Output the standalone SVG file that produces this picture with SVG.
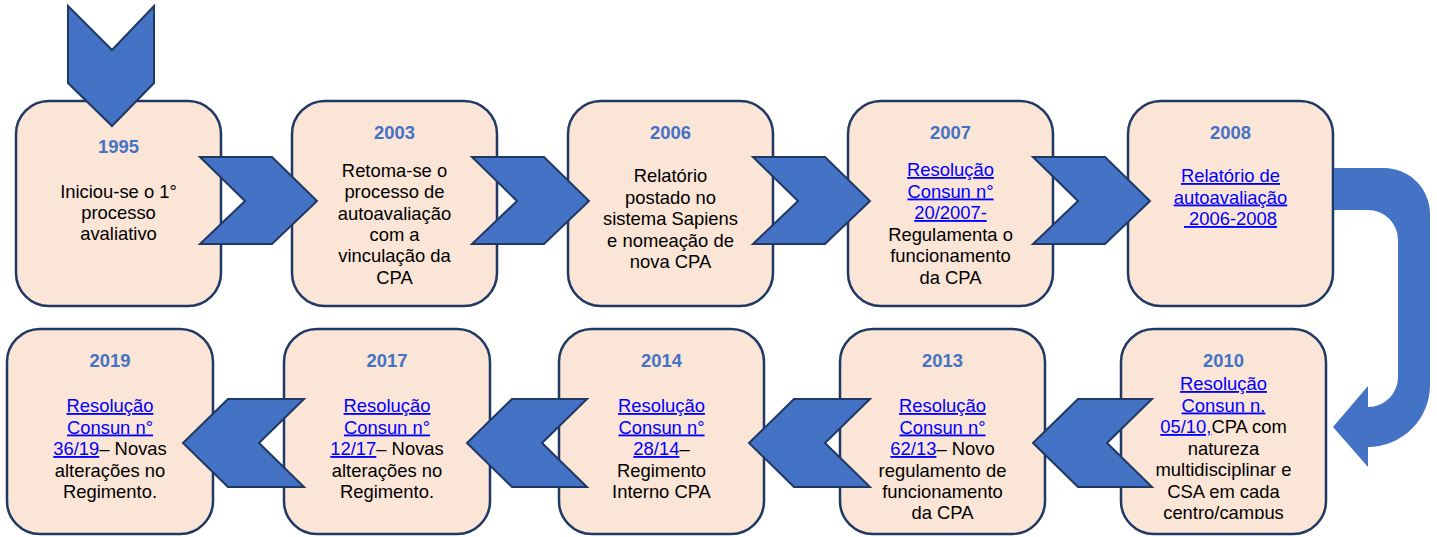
<svg xmlns="http://www.w3.org/2000/svg" width="1437" height="537" viewBox="0 0 1437 537">
<style>
.box{fill:#FBE5D6;stroke:#203864;stroke-width:2.5}
.chev{fill:#4472C4;stroke:#203864;stroke-width:2;stroke-linejoin:miter}
.uarrow{fill:#4472C4}
.yr{font-family:"Liberation Sans",Arial,sans-serif;font-size:18.4px;font-weight:bold;fill:#4472C4;text-anchor:middle}
.tx{font-family:"Liberation Sans",Arial,sans-serif;font-size:18.4px;fill:#000000;text-anchor:middle}
.lk{fill:#0000FF;text-decoration:underline}
</style>
<defs>
<clipPath id="clip2010"><rect x="1121" y="329" width="205" height="190"/></clipPath>
</defs>
<rect width="1437" height="537" fill="#FFFFFF"/>

<g id="node-1995">
<rect class="box" x="16" y="101" width="205" height="205" rx="33"/>
<text class="yr" x="118.5" y="153">1995</text>
<text class="tx" x="118.5" y="198">Iniciou-se o 1°</text>
<text class="tx" x="118.5" y="219">processo</text>
<text class="tx" x="118.5" y="240">avaliativo</text>
</g>

<g id="node-2003">
<rect class="box" x="292" y="101" width="205" height="205" rx="33"/>
<text class="yr" x="394.5" y="139">2003</text>
<text class="tx" x="394.5" y="177">Retoma-se o</text>
<text class="tx" x="394.5" y="198">processo de</text>
<text class="tx" x="394.5" y="219.5">autoavaliação</text>
<text class="tx" x="394.5" y="241">com a</text>
<text class="tx" x="394.5" y="262">vinculação da</text>
<text class="tx" x="394.5" y="283.5">CPA</text>
</g>

<g id="node-2006">
<rect class="box" x="568" y="101" width="205" height="205" rx="33"/>
<text class="yr" x="670.5" y="139">2006</text>
<text class="tx" x="670.5" y="182">Relatório</text>
<text class="tx" x="670.5" y="203.5">postado no</text>
<text class="tx" x="670.5" y="225">sistema Sapiens</text>
<text class="tx" x="670.5" y="246.5">e nomeação de</text>
<text class="tx" x="670.5" y="268">nova CPA</text>
</g>

<g id="node-2007">
<rect class="box" x="848" y="101" width="205" height="205" rx="33"/>
<text class="yr" x="950.5" y="139">2007</text>
<text class="tx" x="950.5" y="176"><tspan class="lk">Resolução</tspan></text>
<text class="tx" x="950.5" y="197.5"><tspan class="lk">Consun n°</tspan></text>
<text class="tx" x="950.5" y="219"><tspan class="lk">20/2007-</tspan></text>
<text class="tx" x="950.5" y="240.5">Regulamenta o</text>
<text class="tx" x="950.5" y="262">funcionamento</text>
<text class="tx" x="950.5" y="283.5">da CPA</text>
</g>

<g id="node-2008">
<rect class="box" x="1128" y="101" width="205" height="205" rx="33"/>
<text class="yr" x="1230.5" y="139">2008</text>
<text class="tx" x="1230.5" y="182"><tspan class="lk">Relatório de</tspan></text>
<text class="tx" x="1230.5" y="203.5"><tspan class="lk">autoavaliação</tspan></text>
<text class="tx" x="1230.5" y="225" xml:space="preserve"><tspan class="lk"> 2006-2008</tspan></text>
</g>

<g id="node-2019">
<rect class="box" x="7" y="329" width="206" height="205" rx="33"/>
<text class="yr" x="110" y="367">2019</text>
<text class="tx" x="110" y="412"><tspan class="lk">Resolução</tspan></text>
<text class="tx" x="110" y="433.5"><tspan class="lk">Consun n°</tspan></text>
<text class="tx" x="110" y="455"><tspan class="lk">36/19</tspan>– Novas</text>
<text class="tx" x="110" y="476.5">alterações no</text>
<text class="tx" x="110" y="498">Regimento.</text>
</g>

<g id="node-2017">
<rect class="box" x="284" y="329" width="206" height="205" rx="33"/>
<text class="yr" x="387" y="367">2017</text>
<text class="tx" x="387" y="412"><tspan class="lk">Resolução</tspan></text>
<text class="tx" x="387" y="433.5"><tspan class="lk">Consun n°</tspan></text>
<text class="tx" x="387" y="455"><tspan class="lk">12/17</tspan>– Novas</text>
<text class="tx" x="387" y="476.5">alterações no</text>
<text class="tx" x="387" y="498">Regimento.</text>
</g>

<g id="node-2014">
<rect class="box" x="559" y="329" width="205" height="205" rx="33"/>
<text class="yr" x="661.5" y="367">2014</text>
<text class="tx" x="661.5" y="412"><tspan class="lk">Resolução</tspan></text>
<text class="tx" x="661.5" y="433.5"><tspan class="lk">Consun n°</tspan></text>
<text class="tx" x="661.5" y="455"><tspan class="lk">28/14</tspan>–</text>
<text class="tx" x="661.5" y="476.5">Regimento</text>
<text class="tx" x="661.5" y="498">Interno CPA</text>
</g>

<g id="node-2013">
<rect class="box" x="840" y="329" width="205" height="205" rx="33"/>
<text class="yr" x="942.5" y="367">2013</text>
<text class="tx" x="942.5" y="412"><tspan class="lk">Resolução</tspan></text>
<text class="tx" x="942.5" y="433.5"><tspan class="lk">Consun n°</tspan></text>
<text class="tx" x="942.5" y="455"><tspan class="lk">62/13</tspan>– Novo</text>
<text class="tx" x="942.5" y="476.5">regulamento de</text>
<text class="tx" x="942.5" y="498">funcionamento</text>
<text class="tx" x="942.5" y="519">da CPA</text>
</g>

<g id="node-2010">
<rect class="box" x="1121" y="329" width="205" height="205" rx="33"/>
<g clip-path="url(#clip2010)">
<text class="yr" x="1223.5" y="367">2010</text>
<text class="tx" x="1223.5" y="390"><tspan class="lk">Resolução</tspan></text>
<text class="tx" x="1223.5" y="411.5"><tspan class="lk">Consun n.</tspan></text>
<text class="tx" x="1223.5" y="433"><tspan class="lk">05/10,</tspan>CPA com</text>
<text class="tx" x="1223.5" y="454.5">natureza</text>
<text class="tx" x="1223.5" y="476">multidisciplinar e</text>
<text class="tx" x="1223.5" y="497.5">CSA em cada</text>
<text class="tx" x="1223.5" y="519">centro/campus</text>
</g>
</g>

<g id="connectors">
<polygon class="chev" points="68,6 112,50 154,6 154,83 112,126 68,83"/>
<polygon class="chev" points="200,157 272,157 317,201 272,244 200,244 245,201"/>
<polygon class="chev" points="472,157 544,157 589,201 544,244 472,244 517,201"/>
<polygon class="chev" points="753,157 825,157 870,201 825,244 753,244 798,201"/>
<polygon class="chev" points="1033,157 1105,157 1150,201 1105,244 1033,244 1078,201"/>
<path class="uarrow" d="M1334,168 L1384,168 A46,46 0 0 1 1430,214 L1430,385 A62,62 0 0 1 1368,447 L1368,467 L1333,427 L1368,386 L1368,407 A30,30 0 0 0 1398,377 L1398,240 A30,30 0 0 0 1368,210 L1334,210 Z"/>
<polygon class="chev" points="1033,443 1078,399 1152,399 1107,443 1152,487 1078,487"/>
<polygon class="chev" points="749,443 794,399 870,399 825,443 870,487 794,487"/>
<polygon class="chev" points="467,443 512,399 587,399 542,443 587,487 512,487"/>
<polygon class="chev" points="183,443 228,399 304,399 259,443 304,487 228,487"/>
</g>
</svg>
